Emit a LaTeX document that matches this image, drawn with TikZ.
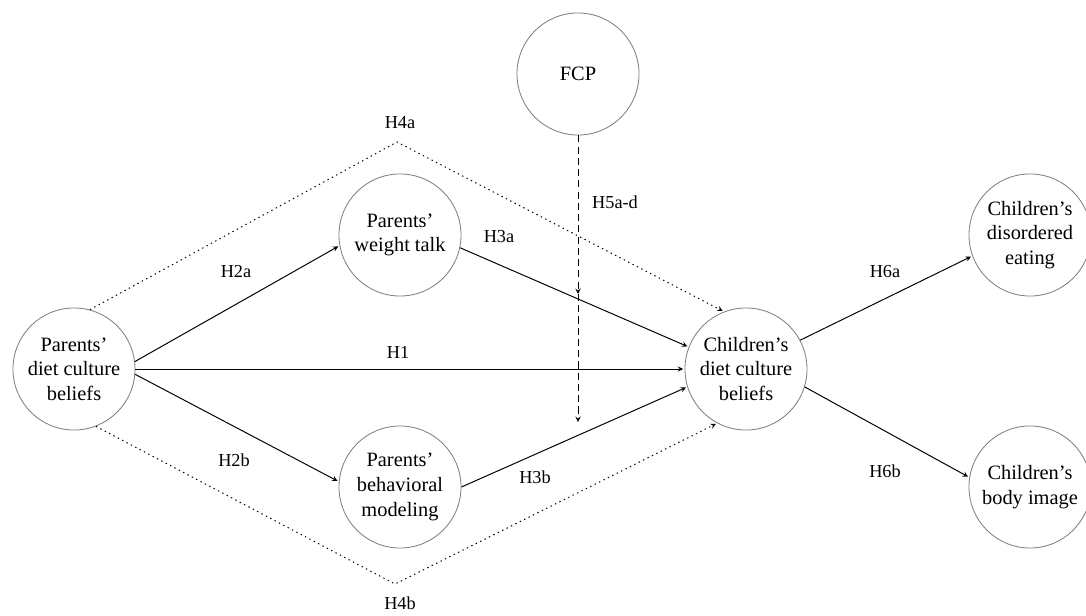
\documentclass[tikz,border=0pt]{standalone}
\usepackage{fontspec}
\setmainfont{Liberation Serif}

\begin{document}
\begin{tikzpicture}[x=0.025cm,y=-0.025cm,>=stealth,line width=0.7pt,align=center,
        var/.style={circle,draw=gray,line width=0.6pt,minimum size=3.05cm,inner sep=0pt,font=\fontsize{14.5}{17.5}\selectfont},
        hyp/.style={font=\fontsize{13}{15}\selectfont},
        link/.style={->,shorten >=1pt},
        total/.style={->,dash pattern=on 1pt off 2.5pt,shorten >=1pt},
        moder/.style={->,dash pattern=on 5pt off 3pt}]
                \useasboundingbox (0,0) rectangle (1086,616);
                \node[var] (pd) at (74,369) {Parents’\\diet culture\\beliefs};
                \node[var] (wt) at (400,235) {Parents’\\weight talk};
                \node[var] (bm) at (400,487) {Parents’\\behavioral\\modeling};
                \node[var] (fcp) at (578,74) {FCP};
                \node[var] (cd) at (746,369) {Children’s\\diet culture\\beliefs};
                \node[var] (de) at (1030,235) {Children’s\\disordered\\eating};
                \node[var] (bi) at (1030,487) {Children’s\\body image};
                \coordinate (top) at (397,142);
                \coordinate (bot) at (395,584);
                \coordinate (m1) at (fcp.south |- 0,294);
                \coordinate (m2) at (fcp.south |- 0,422);
                \path[link] (pd.7) edge (wt.190)
                            (pd.east) edge (cd.west)
                            (pd.-5) edge (bm.175)
                            (wt.-12) edge (cd.159)
                            (bm.0) edge (cd.197)
                            (cd.28) edge (de.200)
                            (cd.-17) edge (bi.171);
                \draw[total] (pd.75) -- (top) -- (cd.111);
                \draw[total] (pd.-69) -- (bot) -- (cd.242);
                \draw[moder] (fcp) -- (m1);
                \draw[moder] (m1) -- (m2);
                \node[hyp] (h1) at (398,352) {H1};
                \node[hyp] (h2a) at (236,272) {H2a};
                \node[hyp] (h2b) at (234,460) {H2b};
                \node[hyp] (h3a) at (499,237) {H3a};
                \node[hyp] (h3b) at (535,477) {H3b};
                \node[hyp] (h4a) at (400,123) {H4a};
                \node[hyp] (h4b) at (400,603) {H4b};
                \node[hyp] (h5) at (615,202) {H5a-d};
                \node[hyp] (h6a) at (885,272) {H6a};
                \node[hyp] (h6b) at (885,471) {H6b};
            \end{tikzpicture}
\end{document}
